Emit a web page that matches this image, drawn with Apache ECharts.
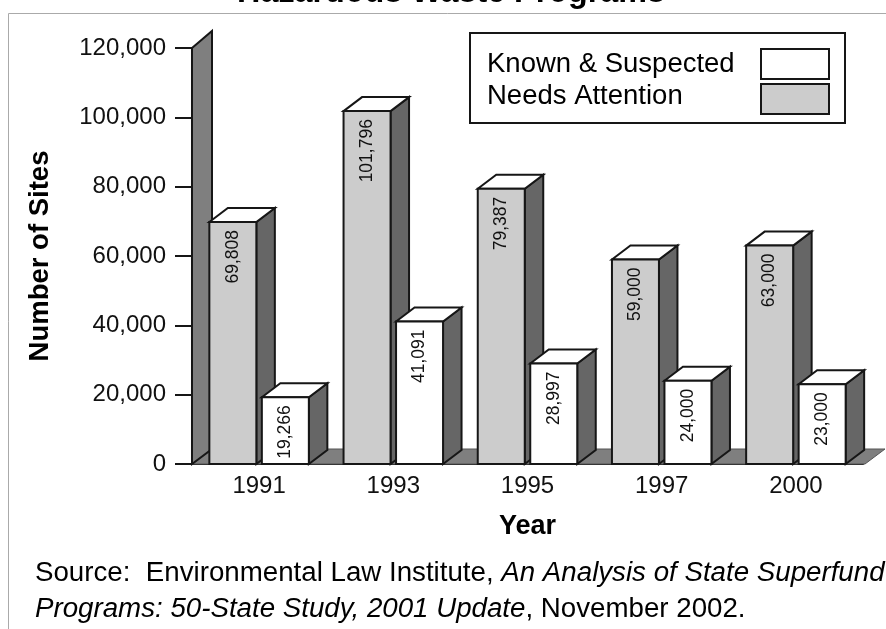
<!DOCTYPE html>
<html><head><meta charset="utf-8">
<style>html,body{margin:0;padding:0;background:#fff}#c{width:886px;height:629px}</style>
<script src="https://cdn.jsdelivr.net/npm/echarts@6/dist/echarts.min.js"></script>
</head><body><div id="c"></div>
<script>
const categories = ['1991','1993','1995','1997','2000'];
const needsAttention = [69808,101796,79387,59000,63000];
const knownSuspected = [19266,41091,28997,24000,23000];
const FONT = '"Liberation Sans", Arial, sans-serif';
const INK = '#161616';
const barW = 47, barOff = 26.25, dx = 18.5, dy = 14;

function barItem(offset, fill) {
  return function (params, api) {
    const v = api.value(1);
    const top = api.coord([api.value(0), v]);
    const base = api.coord([api.value(0), 0]);
    const x0 = top[0] + offset - barW / 2, x1 = x0 + barW, yT = top[1], yB = base[1];
    const st = { stroke: INK, lineWidth: 2, lineJoin: 'miter' };
    return { type: 'group', children: [
      { type: 'polygon', shape: { points: [[x1,yT],[x1+dx,yT-dy],[x1+dx,yB-dy],[x1,yB]] }, style: Object.assign({ fill: '#666666' }, st) },
      { type: 'polygon', shape: { points: [[x0,yT],[x0+dx,yT-dy],[x1+dx,yT-dy],[x1,yT]] }, style: Object.assign({ fill: '#ffffff' }, st) },
      { type: 'rect', shape: { x: x0, y: yT, width: barW, height: yB - yT }, style: Object.assign({ fill: fill }, st) },
      { type: 'text', x: (x0 + x1) / 2, y: yT + 8, rotation: Math.PI / 2,
        style: { text: v.toLocaleString('en-US'), align: 'right', verticalAlign: 'middle', fill: '#111', font: '17.5px ' + FONT } }
    ]};
  };
}
function wallItem(params, api) {
  const r = params.coordSys, L = r.x, T = r.y, B = r.y + r.height, R = r.x + r.width;
  const st = { stroke: INK, lineWidth: 2 };
  const fdx = 20, fdy = 15;
  return { type: 'group', children: [
    { type: 'polygon', shape: { points: [[L,B],[L+fdx,B-fdy],[R+fdx+2,B-fdy],[R+2,B]] }, style: { fill: '#7f7f7f', stroke: '#555', lineWidth: 1 } },
    { type: 'polygon', shape: { points: [[L,T],[L+fdx,T-fdy-2],[L+fdx,B-fdy],[L,B]] }, style: Object.assign({ fill: '#7f7f7f' }, st) }
  ]};
}
const chart = echarts.init(document.getElementById('c'), null, { renderer: 'canvas' });
chart.setOption({
  animation: false,
  backgroundColor: '#ffffff',
  title: [
    { text: 'Hazardous Waste Programs', left: 451, top: -23, textAlign: 'center', padding: 0,
      textStyle: { fontFamily: FONT, fontSize: 32.3, fontWeight: 'bold', color: '#000' } },
    { text: '{n|Source:  Environmental Law Institute, }{i|An Analysis of State Superfund}\n{i|Programs: 50-State Study, 2001 Update}{n|, November 2002.}',
      left: 35, top: 555, padding: 0,
      textStyle: { fontFamily: FONT, fontSize: 27.7, fontWeight: 'normal', color: '#000', lineHeight: 36,
        rich: { n: { fontFamily: FONT, fontSize: 27.7, fontWeight: 'normal', color: '#000', lineHeight: 36 },
                i: { fontFamily: FONT, fontSize: 27.7, fontWeight: 'normal', fontStyle: 'italic', color: '#000', lineHeight: 36 } } } }
  ],
  legend: {
    left: 470, top: 33, orient: 'vertical', align: 'right',
    data: ['Known & Suspected', 'Needs Attention'],
    itemWidth: 68, itemHeight: 30, itemGap: 2,
    padding: [15, 15, 8, 17],
    borderColor: INK, borderWidth: 2, backgroundColor: '#fff',
    icon: 'rect', selectedMode: false,
    itemStyle: { borderColor: INK, borderWidth: 2 },
    formatter: name => (name === 'Needs Attention' ? '{b|' : '{a|') + name + '}',
    textStyle: { rich: {
      a: { width: 269, height: 30, lineHeight: 30, align: 'left', fontFamily: FONT, fontSize: 27.5, color: '#000' },
      b: { width: 269, height: 24, lineHeight: 24, padding: [0, 0, 6, 0], align: 'left', fontFamily: FONT, fontSize: 27.5, color: '#000' }
    } }
  },
  grid: { left: 192, top: 48, width: 671, height: 416 },
  xAxis: {
    type: 'category', data: categories,
    name: 'Year', nameLocation: 'middle', nameGap: 49,
    nameTextStyle: { fontFamily: FONT, fontSize: 27, fontWeight: 'bold', color: '#000' },
    axisTick: { show: false },
    axisLine: { lineStyle: { color: INK, width: 2 } },
    axisLabel: { margin: 10, fontFamily: FONT, fontSize: 24, color: '#111' }
  },
  yAxis: {
    type: 'value', min: 0, max: 120000, interval: 20000,
    name: 'Number of Sites', nameLocation: 'middle', nameGap: 138, nameRotate: 90,
    nameTextStyle: { fontFamily: FONT, fontSize: 27.5, fontWeight: 'bold', color: '#000' },
    splitLine: { show: false },
    axisLine: { show: true, lineStyle: { color: INK, width: 2 } },
    axisTick: { show: true, length: 17, lineStyle: { color: INK, width: 2 } },
    axisLabel: { margin: 26, fontFamily: FONT, fontSize: 24, color: '#111',
      formatter: v => v.toLocaleString('en-US') }
  },
  graphic: [
    { type: 'line', silent: true, shape: { x1: 8.5, y1: 13.5, x2: 886, y2: 13.5 }, style: { stroke: '#aaaaaa', lineWidth: 1 } },
    { type: 'line', silent: true, shape: { x1: 8.5, y1: 13.5, x2: 8.5, y2: 629 }, style: { stroke: '#aaaaaa', lineWidth: 1 } }
  ],
  series: [
    { type: 'custom', name: 'wall', silent: true, renderItem: wallItem, data: [[0, 0]], encode: { x: 0, y: 1 }, clip: false, z: 1 },
    { type: 'custom', name: 'Needs Attention', renderItem: barItem(-barOff, '#cccccc'),
      itemStyle: { color: '#cccccc' }, clip: false, z: 2,
      data: needsAttention.map((v, i) => [i, v]), encode: { x: 0, y: 1 } },
    { type: 'custom', name: 'Known & Suspected', renderItem: barItem(barOff, '#ffffff'),
      itemStyle: { color: '#ffffff' }, clip: false, z: 3,
      data: knownSuspected.map((v, i) => [i, v]), encode: { x: 0, y: 1 } }
  ]
});
</script></body></html>
